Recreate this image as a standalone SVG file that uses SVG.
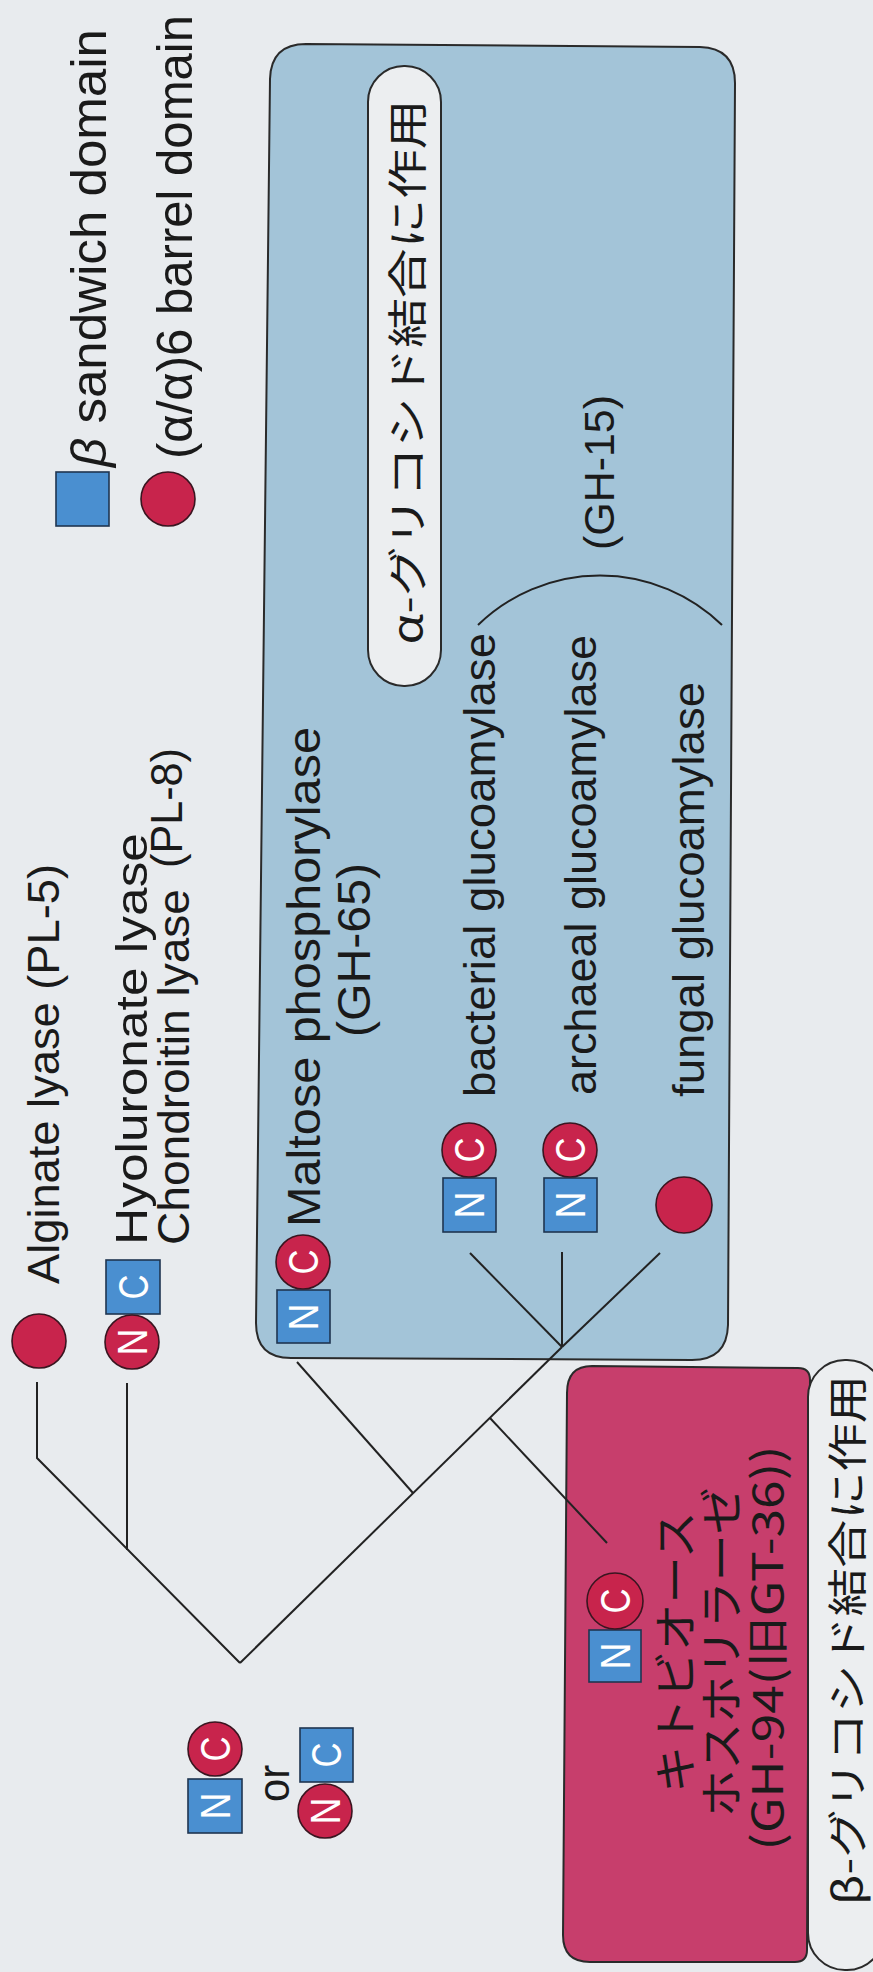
<svg xmlns="http://www.w3.org/2000/svg" width="873" height="1972" viewBox="0 0 873 1972">
<style>
.lat{font-family:"Liberation Sans",Arial,sans-serif;fill:#1a1a1a}
.jp{font-family:"Noto Sans CJK JP","Noto Sans CJK SC",sans-serif;fill:#1a1a1a}
.sq{fill:#4a8fd0;stroke:#1f3550;stroke-width:1.6}
.ci{fill:#c8244c;stroke:#3a1520;stroke-width:1.6}
.lt{font-family:"Liberation Sans",Arial,sans-serif;fill:#ffffff;font-size:42px}
.ln{fill:none;stroke:#222;stroke-width:2}
.pill{fill:#eceef0;stroke:#2a2a2a;stroke-width:2}
</style>
<rect x="0" y="0" width="873" height="1972" fill="#e8ebee"/>

<g id="blue-group">
<path d="M 306 44 L 700 47 Q 735 48 735 83 L 728 1325 Q 727 1360 692 1360 L 291 1358 Q 256 1358 256 1323 L 270 79 Q 271 44 306 44 Z" fill="#a3c4d8" stroke="#2a2a2a" stroke-width="2"/>
</g>
<g id="alpha-label">
<rect class="pill" x="368" y="66" width="73" height="620" rx="36"/>
<text class="jp" font-size="40" text-anchor="middle" dominant-baseline="central" textLength="545" lengthAdjust="spacingAndGlyphs" transform="translate(405,372) rotate(-90)">α-グリコシド結合に作用</text>
</g>

<g id="pink-group">
<path d="M 592 1366 L 798 1368 Q 810 1368 810 1380 L 807 1950 Q 807 1962 795 1962 L 590 1962 Q 563 1962 563 1935 L 567 1393 Q 567 1366 592 1366 Z" fill="#c73e6c" stroke="#2a2a2a" stroke-width="2"/>
</g>
<g id="beta-label">
<rect class="pill" x="808" y="1360" width="76" height="610" rx="37"/>
<text class="jp" font-size="40" text-anchor="middle" dominant-baseline="central" textLength="530" lengthAdjust="spacingAndGlyphs" transform="translate(845,1640) rotate(-90)">β-グリコシド結合に作用</text>
</g>

<g id="connectors">
<path class="ln" d="M 37 1382 L 37 1458 L 240 1663"/>
<path class="ln" d="M 127 1383 L 127 1550"/>
<path class="ln" d="M 240 1663 L 562 1347"/>
<path class="ln" d="M 413 1493 L 297 1362"/>
<path class="ln" d="M 490 1418 L 607 1543"/>
<path class="ln" d="M 562 1347 L 470 1253"/>
<path class="ln" d="M 562 1347 L 562 1252"/>
<path class="ln" d="M 562 1347 L 660 1253"/>
<path class="ln" d="M 478 625 A 175 175 0 0 1 722 625"/>
</g>

<g id="legend-beta">
<rect class="sq" x="56" y="472" width="53" height="54"/>
<text class="lat" font-size="50" textLength="438" lengthAdjust="spacingAndGlyphs" transform="translate(106,467) rotate(-90)"><tspan font-style="italic">β</tspan> sandwich domain</text>
</g>
<g id="legend-alpha">
<circle class="ci" cx="168" cy="499" r="27"/>
<text class="lat" font-size="50" textLength="444" lengthAdjust="spacingAndGlyphs" transform="translate(192,459) rotate(-90)">(α/α)6 barrel domain</text>
</g>

<g id="alginate">
<circle class="ci" cx="39" cy="1341" r="27"/>
<text class="lat" font-size="45" textLength="420" lengthAdjust="spacingAndGlyphs" transform="translate(59,1284) rotate(-90)">Alginate lyase (PL-5)</text>
</g>

<g id="hyaluronate">
<rect class="sq" x="106" y="1260" width="54" height="54"/>
<circle class="ci" cx="132" cy="1342" r="27"/>
<text class="lt" text-anchor="middle" dominant-baseline="central" textLength="25" lengthAdjust="spacingAndGlyphs" transform="translate(133,1287) rotate(-90)">C</text>
<text class="lt" text-anchor="middle" dominant-baseline="central" textLength="27" lengthAdjust="spacingAndGlyphs" transform="translate(132,1342) rotate(-90)">N</text>
<text class="lat" font-size="45" textLength="412" lengthAdjust="spacingAndGlyphs" transform="translate(147,1245) rotate(-90)">Hyoluronate lyase</text>
<text class="lat" font-size="45" textLength="356" lengthAdjust="spacingAndGlyphs" transform="translate(189,1245) rotate(-90)">Chondroitin lyase</text>
<text class="lat" font-size="45" textLength="120" lengthAdjust="spacingAndGlyphs" transform="translate(182,868) rotate(-90)">(PL-8)</text>
</g>

<g id="maltose">
<rect class="sq" x="277" y="1290" width="53" height="53"/>
<circle class="ci" cx="303" cy="1262" r="27"/>
<text class="lt" text-anchor="middle" dominant-baseline="central" textLength="27" lengthAdjust="spacingAndGlyphs" transform="translate(303,1317) rotate(-90)">N</text>
<text class="lt" text-anchor="middle" dominant-baseline="central" textLength="25" lengthAdjust="spacingAndGlyphs" transform="translate(303,1262) rotate(-90)">C</text>
<text class="lat" font-size="46" textLength="500" lengthAdjust="spacingAndGlyphs" transform="translate(320,1227) rotate(-90)">Maltose phosphorylase</text>
<text class="lat" font-size="46" textLength="174" lengthAdjust="spacingAndGlyphs" transform="translate(370,1037) rotate(-90)">(GH-65)</text>
</g>

<g id="bacterial">
<rect class="sq" x="443" y="1178" width="53" height="54"/>
<circle class="ci" cx="469" cy="1150" r="27"/>
<text class="lt" text-anchor="middle" dominant-baseline="central" textLength="27" lengthAdjust="spacingAndGlyphs" transform="translate(469,1205) rotate(-90)">N</text>
<text class="lt" text-anchor="middle" dominant-baseline="central" textLength="25" lengthAdjust="spacingAndGlyphs" transform="translate(469,1150) rotate(-90)">C</text>
<text class="lat" font-size="44" textLength="464" lengthAdjust="spacingAndGlyphs" transform="translate(495,1097) rotate(-90)">bacterial glucoamylase</text>
</g>

<g id="archaeal">
<rect class="sq" x="544" y="1178" width="53" height="54"/>
<circle class="ci" cx="570" cy="1150" r="27"/>
<text class="lt" text-anchor="middle" dominant-baseline="central" textLength="27" lengthAdjust="spacingAndGlyphs" transform="translate(570,1205) rotate(-90)">N</text>
<text class="lt" text-anchor="middle" dominant-baseline="central" textLength="25" lengthAdjust="spacingAndGlyphs" transform="translate(570,1150) rotate(-90)">C</text>
<text class="lat" font-size="44" textLength="460" lengthAdjust="spacingAndGlyphs" transform="translate(596,1095) rotate(-90)">archaeal glucoamylase</text>
</g>

<g id="fungal">
<circle class="ci" cx="684" cy="1205" r="28"/>
<text class="lat" font-size="44" textLength="415" lengthAdjust="spacingAndGlyphs" transform="translate(704,1097) rotate(-90)">fungal glucoamylase</text>
</g>

<g id="gh15">
<text class="lat" font-size="43" textLength="155" lengthAdjust="spacingAndGlyphs" transform="translate(614,550) rotate(-90)">(GH-15)</text>
</g>

<g id="chitobiose">
<rect class="sq" x="589" y="1630" width="52" height="52"/>
<circle class="ci" cx="615" cy="1601" r="28"/>
<text class="lt" text-anchor="middle" dominant-baseline="central" textLength="27" lengthAdjust="spacingAndGlyphs" transform="translate(615,1656) rotate(-90)">N</text>
<text class="lt" text-anchor="middle" dominant-baseline="central" textLength="25" lengthAdjust="spacingAndGlyphs" transform="translate(615,1601) rotate(-90)">C</text>
<text class="jp" font-size="44" text-anchor="middle" dominant-baseline="central" textLength="282" lengthAdjust="spacingAndGlyphs" transform="translate(673,1652) rotate(-90)">キトビオース</text>
<text class="jp" font-size="44" text-anchor="middle" dominant-baseline="central" textLength="330" lengthAdjust="spacingAndGlyphs" transform="translate(719,1652) rotate(-90)">ホスホリラーゼ</text>
<text class="jp" font-size="42" text-anchor="middle" dominant-baseline="central" textLength="405" lengthAdjust="spacingAndGlyphs" transform="translate(764,1648) rotate(-90)">(GH-94(旧GT-36))</text>
</g>

<g id="or-left">
<circle class="ci" cx="215" cy="1749" r="27"/>
<rect class="sq" x="188" y="1779" width="54" height="54"/>
<text class="lt" text-anchor="middle" dominant-baseline="central" textLength="25" lengthAdjust="spacingAndGlyphs" transform="translate(215,1749) rotate(-90)">C</text>
<text class="lt" text-anchor="middle" dominant-baseline="central" textLength="27" lengthAdjust="spacingAndGlyphs" transform="translate(215,1806) rotate(-90)">N</text>
</g>
<g id="or-label">
<text class="lat" font-size="44" textLength="37" lengthAdjust="spacingAndGlyphs" transform="translate(289,1802) rotate(-90)">or</text>
</g>
<g id="or-right">
<rect class="sq" x="300" y="1728" width="53" height="54"/>
<circle class="ci" cx="325" cy="1811" r="27"/>
<text class="lt" text-anchor="middle" dominant-baseline="central" textLength="25" lengthAdjust="spacingAndGlyphs" transform="translate(326,1755) rotate(-90)">C</text>
<text class="lt" text-anchor="middle" dominant-baseline="central" textLength="27" lengthAdjust="spacingAndGlyphs" transform="translate(325,1811) rotate(-90)">N</text>
</g>
</svg>
